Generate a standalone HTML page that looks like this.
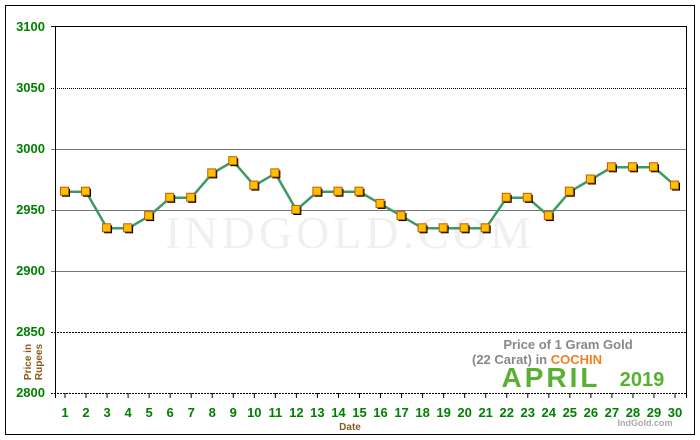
<!DOCTYPE html>
<html><head><style>body{margin:0;background:#fff}svg{display:block}</style></head><body>
<svg width="700" height="440" xmlns="http://www.w3.org/2000/svg" font-family="Liberation Sans, sans-serif">
<rect x="5.5" y="5.5" width="689" height="429" fill="#fff" stroke="#000"/>
<text x="350" y="248" text-anchor="middle" font-family="Liberation Serif, serif" font-size="46" fill="#f0f0f0" letter-spacing="4">INDGOLD.COM</text>
<g stroke-width="1">
<line x1="51" y1="88.5" x2="686" y2="88.5" stroke="#000" stroke-dasharray="1,1"/>
<line x1="51" y1="149.5" x2="686" y2="149.5" stroke="#777"/>
<line x1="51" y1="210.5" x2="686" y2="210.5" stroke="#777"/>
<line x1="51" y1="271.5" x2="686" y2="271.5" stroke="#777"/>
<line x1="51" y1="332.5" x2="686" y2="332.5" stroke="#000" stroke-dasharray="2,1"/>
<line x1="51" y1="393.5" x2="686" y2="393.5" stroke="#000" stroke-dasharray="2,1"/>
<line x1="51" y1="26.5" x2="686" y2="26.5" stroke="#000"/>
<line x1="55.5" y1="26" x2="55.5" y2="398" stroke="#000"/>
<line x1="686.5" y1="26" x2="686.5" y2="398" stroke="#000"/>
</g>
<g fill="#008000" font-size="13" font-weight="bold" text-anchor="end">
<text x="45" y="31">3100</text><text x="45" y="92">3050</text><text x="45" y="153">3000</text>
<text x="45" y="214">2950</text><text x="45" y="275">2900</text><text x="45" y="336">2850</text><text x="45" y="397">2800</text>
</g>
<text transform="translate(31,362) rotate(-90)" text-anchor="middle" font-size="10" font-weight="bold" fill="#8b5a1a">Price in</text>
<text transform="translate(42,362) rotate(-90)" text-anchor="middle" font-size="10" font-weight="bold" fill="#8b5a1a">Rupees</text>
<text x="350" y="430" text-anchor="middle" font-size="10" font-weight="bold" fill="#8b5a1a">Date</text>
<text x="645" y="426" text-anchor="middle" font-size="9" font-weight="bold" fill="#aaa">IndGold.com</text>
<text x="568" y="349" text-anchor="middle" font-size="13" font-weight="bold" fill="#888">Price of 1 Gram Gold</text>
<text x="537" y="364" text-anchor="middle" font-size="13" font-weight="bold" fill="#888">(22 Carat) in <tspan fill="#f08020">COCHIN</tspan></text>
<text x="551" y="387" text-anchor="middle" font-size="28" font-weight="bold" fill="#5ab030" letter-spacing="3">APRIL</text>
<text x="642" y="386" text-anchor="middle" font-size="20" font-weight="bold" fill="#5ab030">2019</text>
<g id="ticks"></g>
<g id="series"></g>
<script>
var d=[2965,2965,2935,2935,2945,2960,2960,2980,2990,2970,2980,2950,2965,2965,2965,2955,2945,2935,2935,2935,2935,2960,2960,2945,2965,2975,2985,2985,2985,2970];
var ns="http://www.w3.org/2000/svg",t=document.getElementById('ticks'),s=document.getElementById('series');
function X(i){return 65+i*610/29}function Y(v){return 393-(v-2800)*61/50}
var p='';
for(var i=0;i<30;i++){var x=X(i);
var l=document.createElementNS(ns,'line');l.setAttribute('x1',x);l.setAttribute('x2',x);l.setAttribute('y1',393);l.setAttribute('y2',398);l.setAttribute('stroke','#000');t.appendChild(l);
var tx=document.createElementNS(ns,'text');tx.setAttribute('x',x);tx.setAttribute('y',417);tx.setAttribute('text-anchor','middle');tx.setAttribute('font-size','13');tx.setAttribute('font-weight','bold');tx.setAttribute('fill','#008000');tx.textContent=i+1;t.appendChild(tx);
p+=(i?'L':'M')+x+','+Y(d[i]);}
var pa=document.createElementNS(ns,'path');pa.setAttribute('d',p);pa.setAttribute('fill','none');pa.setAttribute('stroke','#3c9a62');pa.setAttribute('stroke-width','2.5');s.appendChild(pa);
for(var i=0;i<30;i++){var x=X(i),y=Y(d[i]);
var r=document.createElementNS(ns,'rect');r.setAttribute('x',x-3);r.setAttribute('y',y-3);r.setAttribute('width',8);r.setAttribute('height',8);r.setAttribute('fill','#000');s.appendChild(r);
r=document.createElementNS(ns,'rect');r.setAttribute('x',x-4.5);r.setAttribute('y',y-4.5);r.setAttribute('width',8);r.setAttribute('height',8);r.setAttribute('fill','#ffc000');r.setAttribute('stroke','#c05a00');r.setAttribute('stroke-width','1');s.appendChild(r);}
</script>
</svg>
</body></html>
